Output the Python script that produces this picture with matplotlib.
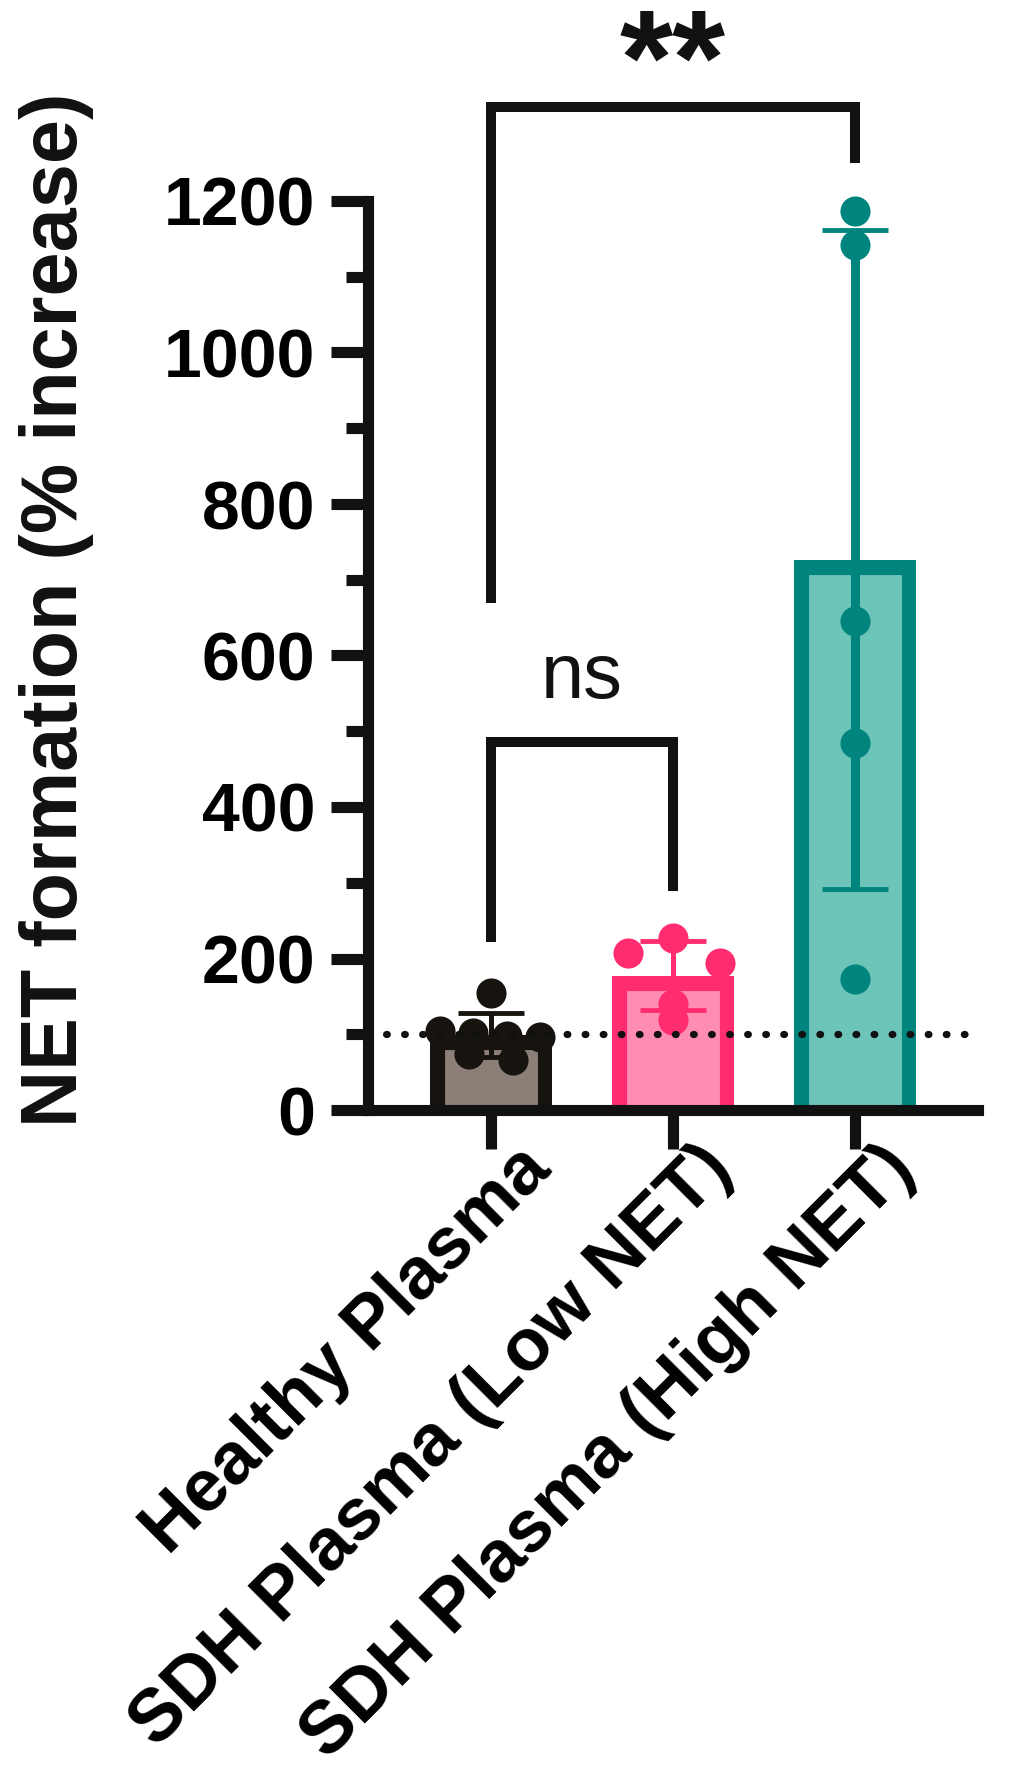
import matplotlib.pyplot as plt
import matplotlib.patches as mpatches
import matplotlib.transforms as mtransforms
from matplotlib.ticker import MultipleLocator
import numpy as np

plt.rcParams['font.family'] = ['Liberation Sans', 'DejaVu Sans']

# valores
grupos = ['Healthy Plasma', 'SDH Plasma (Low NET)', 'SDH Plasma (High NET)']
healthy = [155, 104, 101, 98, 96, 74, 66]
low_net = [207, 227, 194, 119, 140]
high_net = [1187, 1142, 645, 485, 173]
dados = [healthy, low_net, high_net]
yticks = [0, 200, 400, 600, 800, 1000, 1200]
linha_base = 100

# deslocamento horizontal dos pontos dentro de cada barra
jitter = [[0, -0.28, -0.10, 0.09, 0.27, -0.12, 0.12],
          [-0.25, 0, 0.26, 0, 0],
          [0, 0, 0, 0, 0]]

cor_borda = ['#17130f', '#ff2d6f', '#00857e']
cor_fundo = ['#8c7f78', '#ff8db3', '#6dc4b8']
espessura_erro = [3.6, 3.6, 6.5]
preto = '#111111'
largura = 0.67

fig = plt.figure(figsize=(10.1, 17.79), dpi=100)
ax = fig.add_axes([368 / 1010, 1 - 1110 / 1779, (978 - 368) / 1010, (1110 - 201) / 1779])

medias = [np.mean(d) for d in dados]
desvios = [np.std(d, ddof=1) for d in dados]

for i, d in enumerate(dados):
    # barra com borda "por dentro": borda larga cortada pelo retângulo da barra
    b = ax.bar(i, medias[i] + 25, bottom=-25, width=largura, color=cor_fundo[i],
               edgecolor=cor_borda[i], linewidth=21, zorder=1)[0]
    recorte = mpatches.Rectangle((i - largura / 2, 0), largura, medias[i],
                                 transform=ax.transData)
    b.set_clip_path(recorte)
    ax.errorbar(i, medias[i], yerr=desvios[i], color=cor_borda[i],
                elinewidth=espessura_erro[i], capsize=24, capthick=3.5,
                zorder=3, fmt='none')
    ax.scatter(np.array(jitter[i]) + i, d, s=470, color=cor_borda[i], zorder=4,
               clip_on=False, linewidths=0)

ax.axhline(linha_base, color=preto, lw=5.2, linestyle=(0, (0.1, 2.4)),
           dash_capstyle='round', zorder=5)

# barras de significância
ax.plot([0, 0, 2, 2], [669, 1324, 1324, 1250], color=preto, lw=7.2,
        clip_on=False, solid_joinstyle='miter', solid_capstyle='butt')
ax.plot([0, 0, 1, 1], [222, 486, 486, 289], color=preto, lw=7.2,
        clip_on=False, solid_joinstyle='miter', solid_capstyle='butt')
ax.text(1, 1329, '**', ha='center', va='baseline', fontsize=98,
        fontweight='bold', color=preto, clip_on=False)
ax.text(0.5, 544, 'ns', ha='center', va='baseline', fontsize=56, color=preto)

ax.set_xlim(-0.676, 2.676)
ax.set_ylim(0, 1200)
ax.set_yticks(yticks)
ax.yaxis.set_minor_locator(MultipleLocator(100))
ax.set_xticks(range(3))

for s in ['top', 'right']:
    ax.spines[s].set_visible(False)
for s in ['left', 'bottom']:
    ax.spines[s].set_linewidth(8)
    ax.spines[s].set_color(preto)
    ax.spines[s].set_capstyle('projecting')

ax.tick_params(axis='y', which='major', length=27, width=8, pad=11, color=preto)
ax.tick_params(axis='y', which='minor', length=16, width=8, color=preto)
ax.tick_params(axis='x', which='major', length=28, width=8, pad=1, color=preto)

ax.set_xticklabels(grupos, rotation=45, ha='right', va='top',
                   rotation_mode='anchor', fontsize=53, fontweight='bold')
for lab in ax.get_xticklabels():
    lab.set_transform(lab.get_transform() +
                      mtransforms.ScaledTranslation(0.24, 0.17, fig.dpi_scale_trans))
for lab in ax.get_yticklabels():
    lab.set_fontsize(49)
    lab.set_fontweight('bold')

fig.text(0.056, 1 - 610 / 1779, 'NET formation (% increase)', rotation=90,
         ha='center', va='center', fontsize=57, fontweight='bold', color=preto)

plt.savefig('out.png', dpi=100)
